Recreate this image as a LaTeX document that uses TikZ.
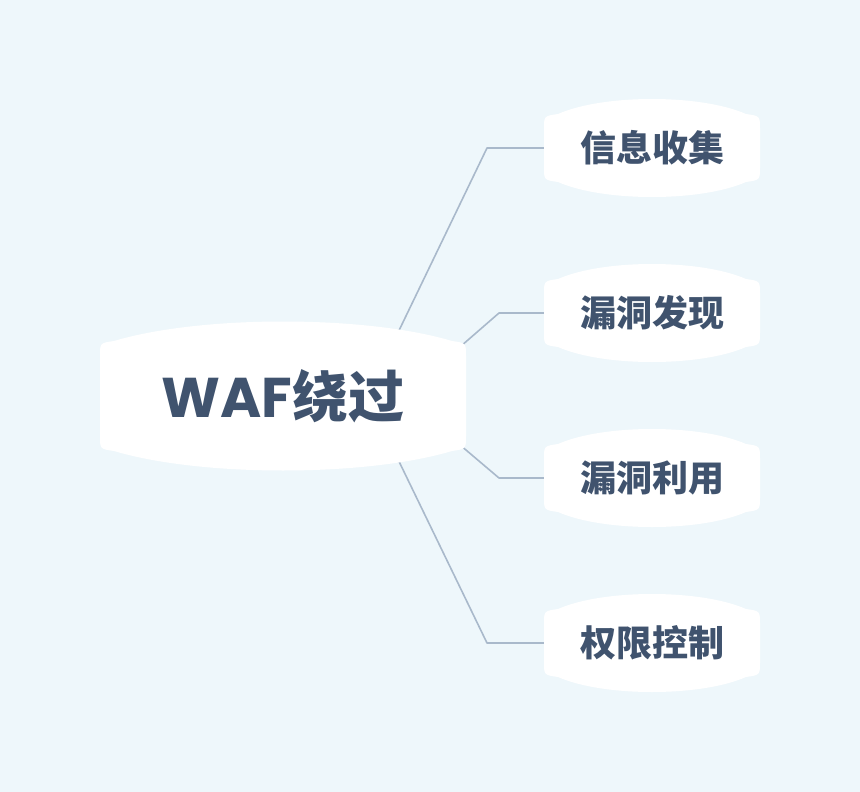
\documentclass[tikz,border=0pt]{standalone}
\usepackage{fontspec}
\newfontfamily\cjk{Noto Sans CJK SC}
\newfontfamily\pop{Poppins}
\definecolor{bgc}{HTML}{EEF7FB}
\definecolor{txc}{HTML}{40536E}
\definecolor{lnc}{HTML}{A9B9CB}
\tikzset{
  conn/.style={draw=lnc, line width=1.6pt, line join=round},
  roottext/.style={font=\fontsize{56}{62}\selectfont\bfseries, text=txc, inner sep=0pt},
  childtext/.style={font=\cjk\fontsize{36}{40}\selectfont\bfseries, text=txc, inner sep=0pt},
}
% #1 half width, #2 half height at corners, #3 control offset of bulge
\newcommand\bubbleshape[3]{%
  \fill[white] (-#1,0) -- (-#1,{-#2+12}) .. controls (-#1,{-#2-1}) .. ({-#1+14},{-#2-3})
    .. controls ({-#1*0.45},{-#3}) and ({#1*0.45},{-#3}) .. ({#1-14},{-#2-3})
    .. controls (#1,{-#2-1}) .. (#1,{-#2+12}) -- (#1,{#2-12})
    .. controls (#1,{#2+1}) .. ({#1-14},{#2+3})
    .. controls ({#1*0.45},{#3}) and ({-#1*0.45},{#3}) .. ({-#1+14},{#2+3})
    .. controls (-#1,{#2+1}) .. (-#1,{#2-12}) -- cycle;}
\begin{document}
\begin{tikzpicture}[x=1pt,y=-1pt]
\fill[bgc] (0,0) rectangle (860,792);
\useasboundingbox (0,0) rectangle (860,792);
% connectors
\coordinate (s1) at (392,345);
\coordinate (k1) at (487,148);
\coordinate (s2) at (453,353);
\coordinate (k2) at (499,313);
\coordinate (s3) at (453,439);
\coordinate (k3) at (499,478);
\coordinate (s4) at (392,447);
\coordinate (k4) at (487,643);
\coordinate (c1w) at (560,148);
\coordinate (c2w) at (560,313);
\coordinate (c3w) at (560,478);
\coordinate (c4w) at (560,643);
\draw[conn] (s1) -- (k1) -- (c1w);
\draw[conn] (s2) -- (k2) -- (c2w);
\draw[conn] (s3) -- (k3) -- (c3w);
\draw[conn] (s4) -- (k4) -- (c4w);
% shapes
\begin{scope}[shift={(283,396)}]\bubbleshape{183}{52}{81}\end{scope}
\begin{scope}[shift={(652,148)}]\bubbleshape{108}{31}{54}\end{scope}
\begin{scope}[shift={(652,313)}]\bubbleshape{108}{31}{54}\end{scope}
\begin{scope}[shift={(652,478)}]\bubbleshape{108}{31}{54}\end{scope}
\begin{scope}[shift={(652,643)}]\bubbleshape{108}{31}{54}\end{scope}
% texts
\node[roottext] (root) at (283,396) {\pop WAF\cjk 绕过};
\node[childtext] (c1) at (652,148) {信息收集};
\node[childtext] (c2) at (652,313) {漏洞发现};
\node[childtext] (c3) at (652,478) {漏洞利用};
\node[childtext] (c4) at (652,643) {权限控制};
\end{tikzpicture}
\end{document}
